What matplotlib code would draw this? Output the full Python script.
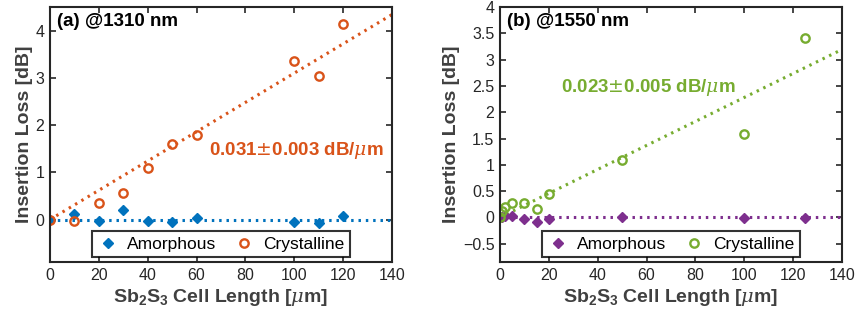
import numpy as np
import matplotlib
matplotlib.use('Agg')
import matplotlib.pyplot as plt

# ---------------- data ----------------
# (a) 1310 nm
len_a = [0, 10, 20, 30, 40, 50, 60, 100, 110, 120]
amor_a = [0.0, 0.12, -0.02, 0.20, -0.03, -0.06, 0.03, -0.06, -0.07, 0.07]
cryst_a = [0.0, -0.02, 0.35, 0.57, 1.10, 1.60, 1.80, 3.35, 3.05, 4.15]
slope_a = 0.031
slope_amor_a = 0.0

# (b) 1550 nm
len_b = [0, 1, 2, 5, 10, 15, 20, 50, 100, 125]
amor_b = [0.0, 0.0, 0.02, 0.02, -0.03, -0.08, -0.03, 0.0, -0.02, -0.01]
cryst_b = [0.0, 0.13, 0.20, 0.28, 0.27, 0.15, 0.45, 1.10, 1.58, 3.42]
slope_b = 0.0228
slope_amor_b = 0.0

fit_x = [0, 140]

BLUE = '#0072BD'
ORANGE = '#D95319'
PURPLE = '#7E2F8E'
GREEN = '#77AC30'

plt.rcParams['font.family'] = ['Liberation Sans', 'DejaVu Sans']
plt.rcParams['mathtext.fontset'] = 'custom'
plt.rcParams['mathtext.it'] = 'DejaVu Serif:italic'

fig = plt.figure(figsize=(8.57, 3.2), dpi=100)
axA = fig.add_axes([0.0583, 0.181, 0.399, 0.797])
axB = fig.add_axes([0.5834, 0.181, 0.399, 0.797])


def panel(ax, x, amor, cryst, s_c, s_a, c_a, c_c, ylim, yticks, title, note, note_xy):
    fx = np.array(fit_x)
    ax.plot(fx, s_a * fx, color=c_a, lw=2.2, dashes=(0.8, 1.6))
    ax.plot(fx, s_c * fx, color=c_c, lw=2.2, dashes=(0.8, 1.6))
    ax.plot(x, amor, 'D', color=c_a, ms=5, mec=c_a, ls='none', label='Amorphous')
    ax.plot(x, cryst, 'o', mfc='none', mec=c_c, mew=1.7, ms=6, ls='none', label='Crystalline')
    ax.set_xlim(0, 140)
    ax.set_ylim(*ylim)
    ax.set_xticks(range(0, 141, 20))
    ax.set_yticks(yticks)
    ax.set_yticklabels(['%g' % t if t >= 0 else '\u2212%g' % -t for t in yticks])
    ax.tick_params(direction='in', top=True, right=True, labelsize=11.5, length=4,
                   width=1.2, colors='#262626', pad=4)
    for sp in ax.spines.values():
        sp.set_linewidth(1.5)
        sp.set_color('#262626')
    ax.set_xlabel(r'Sb$_\mathregular{2}$S$_\mathregular{3}$ Cell Length [$\mathit{\mu}$m]',
                  fontsize=14, fontweight='bold', color='#404040', labelpad=3)
    ax.set_ylabel('Insertion Loss [dB]', fontsize=14, fontweight='bold', color='#404040', labelpad=2)
    ax.text(0.02, 0.975, title, transform=ax.transAxes, ha='left', va='top',
            fontsize=13.5, fontweight='bold', color='black')
    ax.text(note_xy[0], note_xy[1], note, ha='left', va='center',
            fontsize=13.5, fontweight='bold', color=c_c)
    leg = ax.legend(loc='lower center', ncol=2, fontsize=12.5, frameon=True, fancybox=False,
                    edgecolor='black', handletextpad=0.5, columnspacing=1.0, handlelength=1.2,
                    borderpad=0.3, borderaxespad=0.3, bbox_to_anchor=(0.5, 0.0))
    leg.get_frame().set_linewidth(1.5)


panel(axA, len_a, amor_a, cryst_a, slope_a, slope_amor_a, BLUE, ORANGE,
      (-0.9, 4.5), [0, 1, 2, 3, 4], '(a) @1310 nm',
      r'0.031$\pm$0.003 dB/$\mathit{\mu}$m', (65, 1.46))
panel(axB, len_b, amor_b, cryst_b, slope_b, slope_amor_b, PURPLE, GREEN,
      (-0.85, 4), [-0.5, 0, 0.5, 1, 1.5, 2, 2.5, 3, 3.5, 4], '(b) @1550 nm',
      r'0.023$\pm$0.005 dB/$\mathit{\mu}$m', (25, 2.47))

fig.savefig('out.png', dpi=100)
